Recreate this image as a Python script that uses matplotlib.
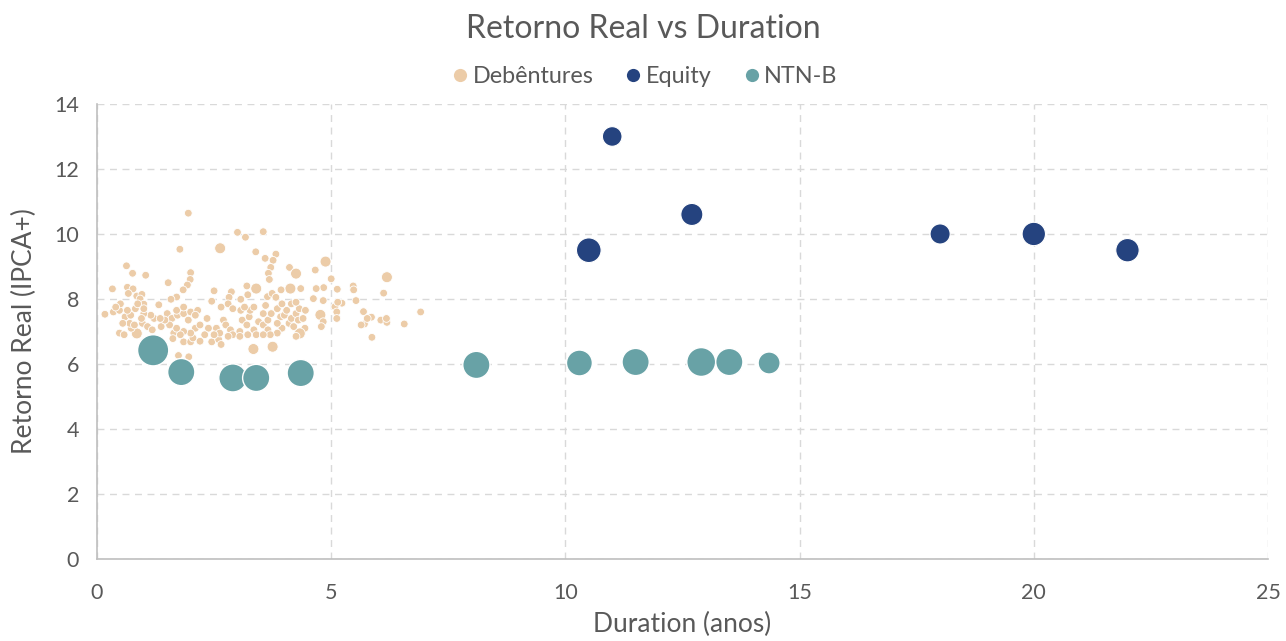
import matplotlib
matplotlib.use("Agg")
import matplotlib.pyplot as plt
from matplotlib.lines import Line2D

plt.rcParams['font.family'] = ['Lato', 'DejaVu Sans']

# ---- data ----
deb_x = [1.95, 3.0, 3.17, 3.55, 1.77, 2.63, 3.39, 3.82, 3.59, 3.76, 4.88, 0.63, 0.76, 1.04, 2.0,
         1.99, 1.52, 1.93, 1.84, 3.71, 3.66, 4.11, 4.25, 4.66, 5.0, 3.68, 3.40, 3.2, 6.19, 6.12,
         5.47, 5.48, 5.13, 4.84, 4.68, 4.35, 4.13, 3.93, 0.33, 0.65, 0.77, 0.67, 0.85, 0.96, 0.92,
         1.0, 1.70, 1.58, 2.5, 2.87, 2.82, 2.45, 1.32, 3.07, 3.22, 3.64, 3.74, 3.82, 4.62, 4.83,
         5.08, 5.23, 5.14, 5.53, 5.69, 5.86, 6.06, 6.19, 6.18, 6.56, 6.91, 5.71, 5.77, 5.64, 5.87,
         4.77, 4.83, 4.79, 4.44, 4.30, 4.33, 4.25, 5.12, 5.12, 3.34, 3.75, 1.74, 1.96, 0.17, 0.35,
         0.48, 0.6, 0.72, 0.82, 0.48, 0.58, 0.85, 0.73, 0.97, 1.08, 1.18, 1.22, 1.37, 1.5, 1.6,
         1.72, 1.85, 1.64, 1.62, 1.85, 2.0, 2.05, 2.1, 2.2, 2.35, 2.38, 2.3, 2.45, 2.6, 2.65,
         2.55, 2.7, 2.75, 2.85, 2.9, 3.05, 3.1, 3.25, 3.2, 3.35, 3.4, 3.45, 3.55, 3.65, 3.65,
         3.72, 3.85, 3.92, 4.0, 4.05, 4.1, 4.15, 4.25, 4.3, 4.2, 3.95, 3.85, 4.32, 4.45, 4.4,
         3.85, 3.7, 3.55, 3.22, 3.05, 2.8, 2.62, 2.5, 2.2, 2.0, 1.85, 1.78, 1.7, 1.55, 1.45,
         1.35, 1.15, 1.0, 0.95, 0.65, 0.87, 0.5, 0.4, 1.0, 0.7, 0.8, 0.55, 3.07, 3.27, 3.35,
         3.15, 2.65, 2.8, 2.9, 1.7, 1.85, 2.0, 2.15, 2.1, 1.95, 3.55, 3.6, 3.95, 4.15, 4.25]
deb_y = [10.64, 10.05, 9.9, 10.07, 9.53, 9.56, 9.45, 9.38, 9.25, 9.19, 9.15, 9.02, 8.79, 8.73, 8.81,
         8.6, 8.5, 8.43, 8.28, 8.97, 8.79, 8.97, 8.78, 8.89, 8.62, 8.6, 8.32, 8.4, 8.67, 8.18,
         8.4, 8.28, 8.3, 8.35, 8.32, 8.32, 8.32, 8.28, 8.31, 8.36, 8.31, 8.17, 8.09, 8.14, 8.0,
         7.84, 8.06, 7.99, 8.25, 8.22, 8.05, 7.93, 7.82, 7.99, 8.13, 8.07, 8.17, 8.05, 8.01, 7.95,
         7.76, 7.87, 7.9, 7.95, 7.61, 7.44, 7.35, 7.28, 7.4, 7.23, 7.6, 7.23, 7.4, 7.2, 6.82,
         7.51, 7.3, 7.15, 7.1, 6.89, 6.94, 6.85, 7.6, 7.4, 6.46, 6.53, 6.26, 6.22, 7.53, 7.6,
         7.65, 7.45, 7.5, 7.7, 6.95, 6.9, 6.94, 7.1, 7.25, 7.15, 7.05, 7.4, 7.15, 7.55, 7.4,
         7.5, 7.55, 6.95, 6.78, 6.68, 6.68, 6.8, 7.1, 7.2, 7.4, 7.1, 6.9, 6.68, 6.75, 6.6,
         7.1, 7.35, 7.2, 7.05, 6.9, 7.0, 7.35, 7.45, 7.2, 7.05, 6.9, 7.3, 7.2, 7.05, 7.35,
         7.55, 7.7, 7.45, 7.5, 7.65, 7.25, 7.4, 7.55, 7.35, 7.15, 7.1, 7.25, 7.7, 7.65, 7.4,
         6.95, 6.9, 6.9, 6.9, 6.85, 6.85, 6.95, 6.9, 6.7, 6.95, 7.0, 6.9, 7.1, 7.2, 7.35,
         7.4, 7.5, 7.55, 7.4, 7.65, 7.85, 7.85, 7.75, 7.7, 7.25, 7.2, 7.25, 7.65, 7.65, 7.75,
         7.75, 7.75, 7.85, 7.7, 7.65, 7.75, 7.6, 7.65, 7.5, 7.35, 7.55, 7.8, 7.85, 7.85, 7.9]
big_deb = {5, 10, 22, 26, 28, 36, 75, 80, 84, 85, 96}
deb_size = [2.0 if i in big_deb else 1.0 for i in range(len(deb_x))]

eq_x = [11.0, 10.5, 12.7, 18.0, 20.0, 22.0]
eq_y = [13.0, 9.5, 10.6, 10.0, 10.0, 9.5]
eq_size = [9.5, 15.0, 12.0, 10.0, 13.5, 13.5]

ntnb_x = [1.2, 1.8, 2.9, 3.4, 4.35, 8.1, 10.3, 11.5, 12.9, 13.5, 14.35]
ntnb_y = [6.42, 5.75, 5.57, 5.57, 5.72, 5.97, 6.03, 6.06, 6.06, 6.06, 6.03]
ntnb_size = [21.0, 16.0, 17.0, 16.0, 16.0, 16.0, 14.5, 16.0, 18.0, 16.0, 10.5]

c_deb = '#ECCCA8'
c_eq = '#25437F'
c_nt = '#68A2A6'
txt = '#595959'

fig = plt.figure(figsize=(12.86, 6.41), dpi=100)
ax = fig.add_axes([0.0754, 0.128, 0.9106, 0.7098])

def s_of(v, k):
    return [k * a for a in v]

ax.scatter(deb_x, deb_y, s=s_of(deb_size, 31), color=c_deb, edgecolors='white',
           linewidths=0.6, zorder=3, label='Debêntures')
ax.scatter(eq_x, eq_y, s=s_of(eq_size, 21), color=c_eq, edgecolors='white',
           linewidths=0.8, zorder=4, label='Equity')
ax.scatter(ntnb_x, ntnb_y, s=s_of(ntnb_size, 24), color=c_nt, edgecolors='white',
           linewidths=1.0, zorder=4, label='NTN-B')

ax.set_xlim(0, 25)
ax.set_ylim(0, 14)
ax.set_xticks([0, 5, 10, 15, 20, 25])
ax.set_yticks([0, 2, 4, 6, 8, 10, 12, 14])
ax.grid(True, color='#D9D9D9', linestyle=(0, (5, 4)), linewidth=1.0, zorder=0)
ax.set_axisbelow(True)
for sp in ['top', 'right']:
    ax.spines[sp].set_visible(False)
for sp in ['left', 'bottom']:
    ax.spines[sp].set_color('#BFBFBF')
    ax.spines[sp].set_linewidth(1.2)
ax.tick_params(length=0, labelsize=15.5, labelcolor=txt)
ax.tick_params(axis='x', pad=17)
ax.tick_params(axis='y', pad=13)

ax.set_xlabel('Duration (anos)', fontsize=19, color=txt, labelpad=7)
ax.set_ylabel('Retorno Real (IPCA+)', fontsize=19, color=txt, labelpad=12)

fig.text(0.5, 0.955, 'Retorno Real vs Duration', ha='center', va='center',
         fontsize=23, color=txt)

handles = [Line2D([], [], marker='o', linestyle='', markersize=9.5, color=c, markeredgewidth=0)
           for c in (c_deb, c_eq, c_nt)]
fig.legend(handles, ['Debêntures', 'Equity', 'NTN-B'], loc='center',
           bbox_to_anchor=(0.5, 0.880), ncol=3, frameon=False, fontsize=16.8,
           labelcolor=txt, handletextpad=0.05, columnspacing=1.2, handlelength=1.0)

fig.savefig('out.png', dpi=100)
